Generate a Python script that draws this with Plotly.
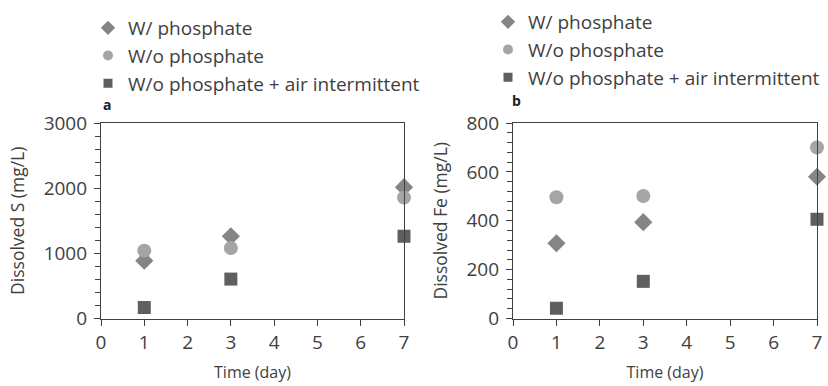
import plotly.graph_objects as go

days = [1, 3, 7]
series_names = ["W/ phosphate", "W/o phosphate", "W/o phosphate + air intermittent"]
s_w_phosphate = [887, 1262, 2015]
s_wo_phosphate = [1041, 1082, 1855]
s_wo_air = [169, 605, 1262]
fe_w_phosphate = [308, 394, 580]
fe_wo_phosphate = [496, 501, 700]
fe_wo_air = [42, 152, 406]

symbols = ["diamond", "circle", "square"]
colors = ["#858585", "#a5a5a5", "#5f5f5f"]
sizes = [14, 14, 13]
legend_sizes = [11, 10, 9]

FONT = "Open Sans"
W, H = 828, 386

fig = go.Figure()

panel_a = [s_w_phosphate, s_wo_phosphate, s_wo_air]
panel_b = [fe_w_phosphate, fe_wo_phosphate, fe_wo_air]

for panel, xa, ya, leg in [(panel_a, "x", "y", "legend"), (panel_b, "x2", "y2", "legend2")]:
    for i, name in enumerate(series_names):
        fig.add_trace(go.Scatter(
            x=days, y=panel[i], mode="markers", name=name, showlegend=False,
            marker=dict(symbol=symbols[i], color=colors[i], size=sizes[i]),
            xaxis=xa, yaxis=ya, cliponaxis=False))
    for i, name in enumerate(series_names):
        fig.add_trace(go.Scatter(
            x=[None], y=[None], mode="markers", name=name, showlegend=True,
            legendgroup=leg + str(i),
            marker=dict(symbol=symbols[i], color=colors[i], size=legend_sizes[i]),
            xaxis=xa, yaxis=ya, legend=leg))

def px_x(p):
    return p / W

def px_y(p):
    return (H - p) / H

dom_a = [px_x(101), px_x(404)]
dom_b = [px_x(513), px_x(817)]
dom_y = [px_y(318.5), px_y(123)]

textcol = "#404040"
tickfont = dict(family=FONT, size=19, color=textcol)
linecol = "#404040"

def xaxis_cfg(domain, anchor):
    return dict(domain=domain, anchor=anchor, range=[0, 7], tickmode="linear", tick0=0, dtick=1,
                showgrid=False, zeroline=False, showline=True, linecolor=linecol,
                linewidth=1.2, mirror=True, ticks="outside", ticklen=6, automargin=False,
                tickcolor=linecol, tickfont=tickfont, ticklabelstandoff=1,
                title=dict(text="Time (day)", font=dict(family=FONT, size=16, color=textcol), standoff=12))

def yaxis_cfg(domain, anchor, rng, dtick, title, dtick_minor, standoff):
    return dict(domain=domain, anchor=anchor, range=rng, tickmode="linear", tick0=0, dtick=dtick,
                showgrid=False, zeroline=False, showline=True, linecolor=linecol,
                linewidth=1.2, mirror=True, ticks="outside", ticklen=6, automargin=False,
                tickcolor=linecol, tickfont=tickfont, ticklabelstandoff=3,
                minor=dict(dtick=dtick_minor, tick0=0, ticks="outside", ticklen=5,
                           tickcolor=linecol, showgrid=False),
                title=dict(text=title, font=dict(family=FONT, size=17.5, color=textcol), standoff=standoff))

def yoverlay_cfg(domain, anchor, rng, dtick, over):
    return dict(domain=domain, anchor=anchor, overlaying=over, range=rng, tickmode="linear",
                tick0=0, dtick=dtick, automargin=False,
                showgrid=False, zeroline=False, showline=False, ticks="inside", ticklen=6,
                tickcolor=linecol, showticklabels=False)

legfont = dict(family=FONT, size=19, color=textcol)

fig.update_layout(
    width=W, height=H,
    margin=dict(l=0, r=0, t=0, b=0, autoexpand=False),
    paper_bgcolor="white", plot_bgcolor="white",
    font=dict(family=FONT, color=textcol),
    xaxis=xaxis_cfg(dom_a, "y"),
    yaxis=yaxis_cfg(dom_y, "x", [0, 3000], 1000, "Dissolved S (mg/L)", 200, 14),
    xaxis2=xaxis_cfg(dom_b, "y2"),
    yaxis2=yaxis_cfg(dom_y, "x2", [0, 800], 200, "Dissolved Fe (mg/L)", 40, 14),
    yaxis3=yoverlay_cfg(dom_y, "x", [0, 3000], 1000, "y"),
    yaxis4=yoverlay_cfg(dom_y, "x2", [0, 800], 200, "y2"),
    legend=dict(x=px_x(88), y=px_y(9), xanchor="left", yanchor="top",
                font=legfont, bgcolor="rgba(0,0,0,0)", itemwidth=30, tracegroupgap=0),
    legend2=dict(x=px_x(488), y=px_y(3), xanchor="left", yanchor="top",
                 font=legfont, bgcolor="rgba(0,0,0,0)", itemwidth=30, tracegroupgap=0),
    annotations=[
        dict(text="<b>a</b>", x=px_x(101), y=px_y(105), xref="paper", yref="paper",
             xanchor="left", yanchor="middle", showarrow=False,
             font=dict(family=FONT, size=14, color="#202020")),
        dict(text="<b>b</b>", x=px_x(510), y=px_y(100), xref="paper", yref="paper",
             xanchor="left", yanchor="middle", showarrow=False,
             font=dict(family=FONT, size=14, color="#202020")),
    ],
)

fig.write_html("out.html", config={"displayModeBar": False},
               post_script="document.body.style.margin='0';document.body.style.overflow='hidden';")
